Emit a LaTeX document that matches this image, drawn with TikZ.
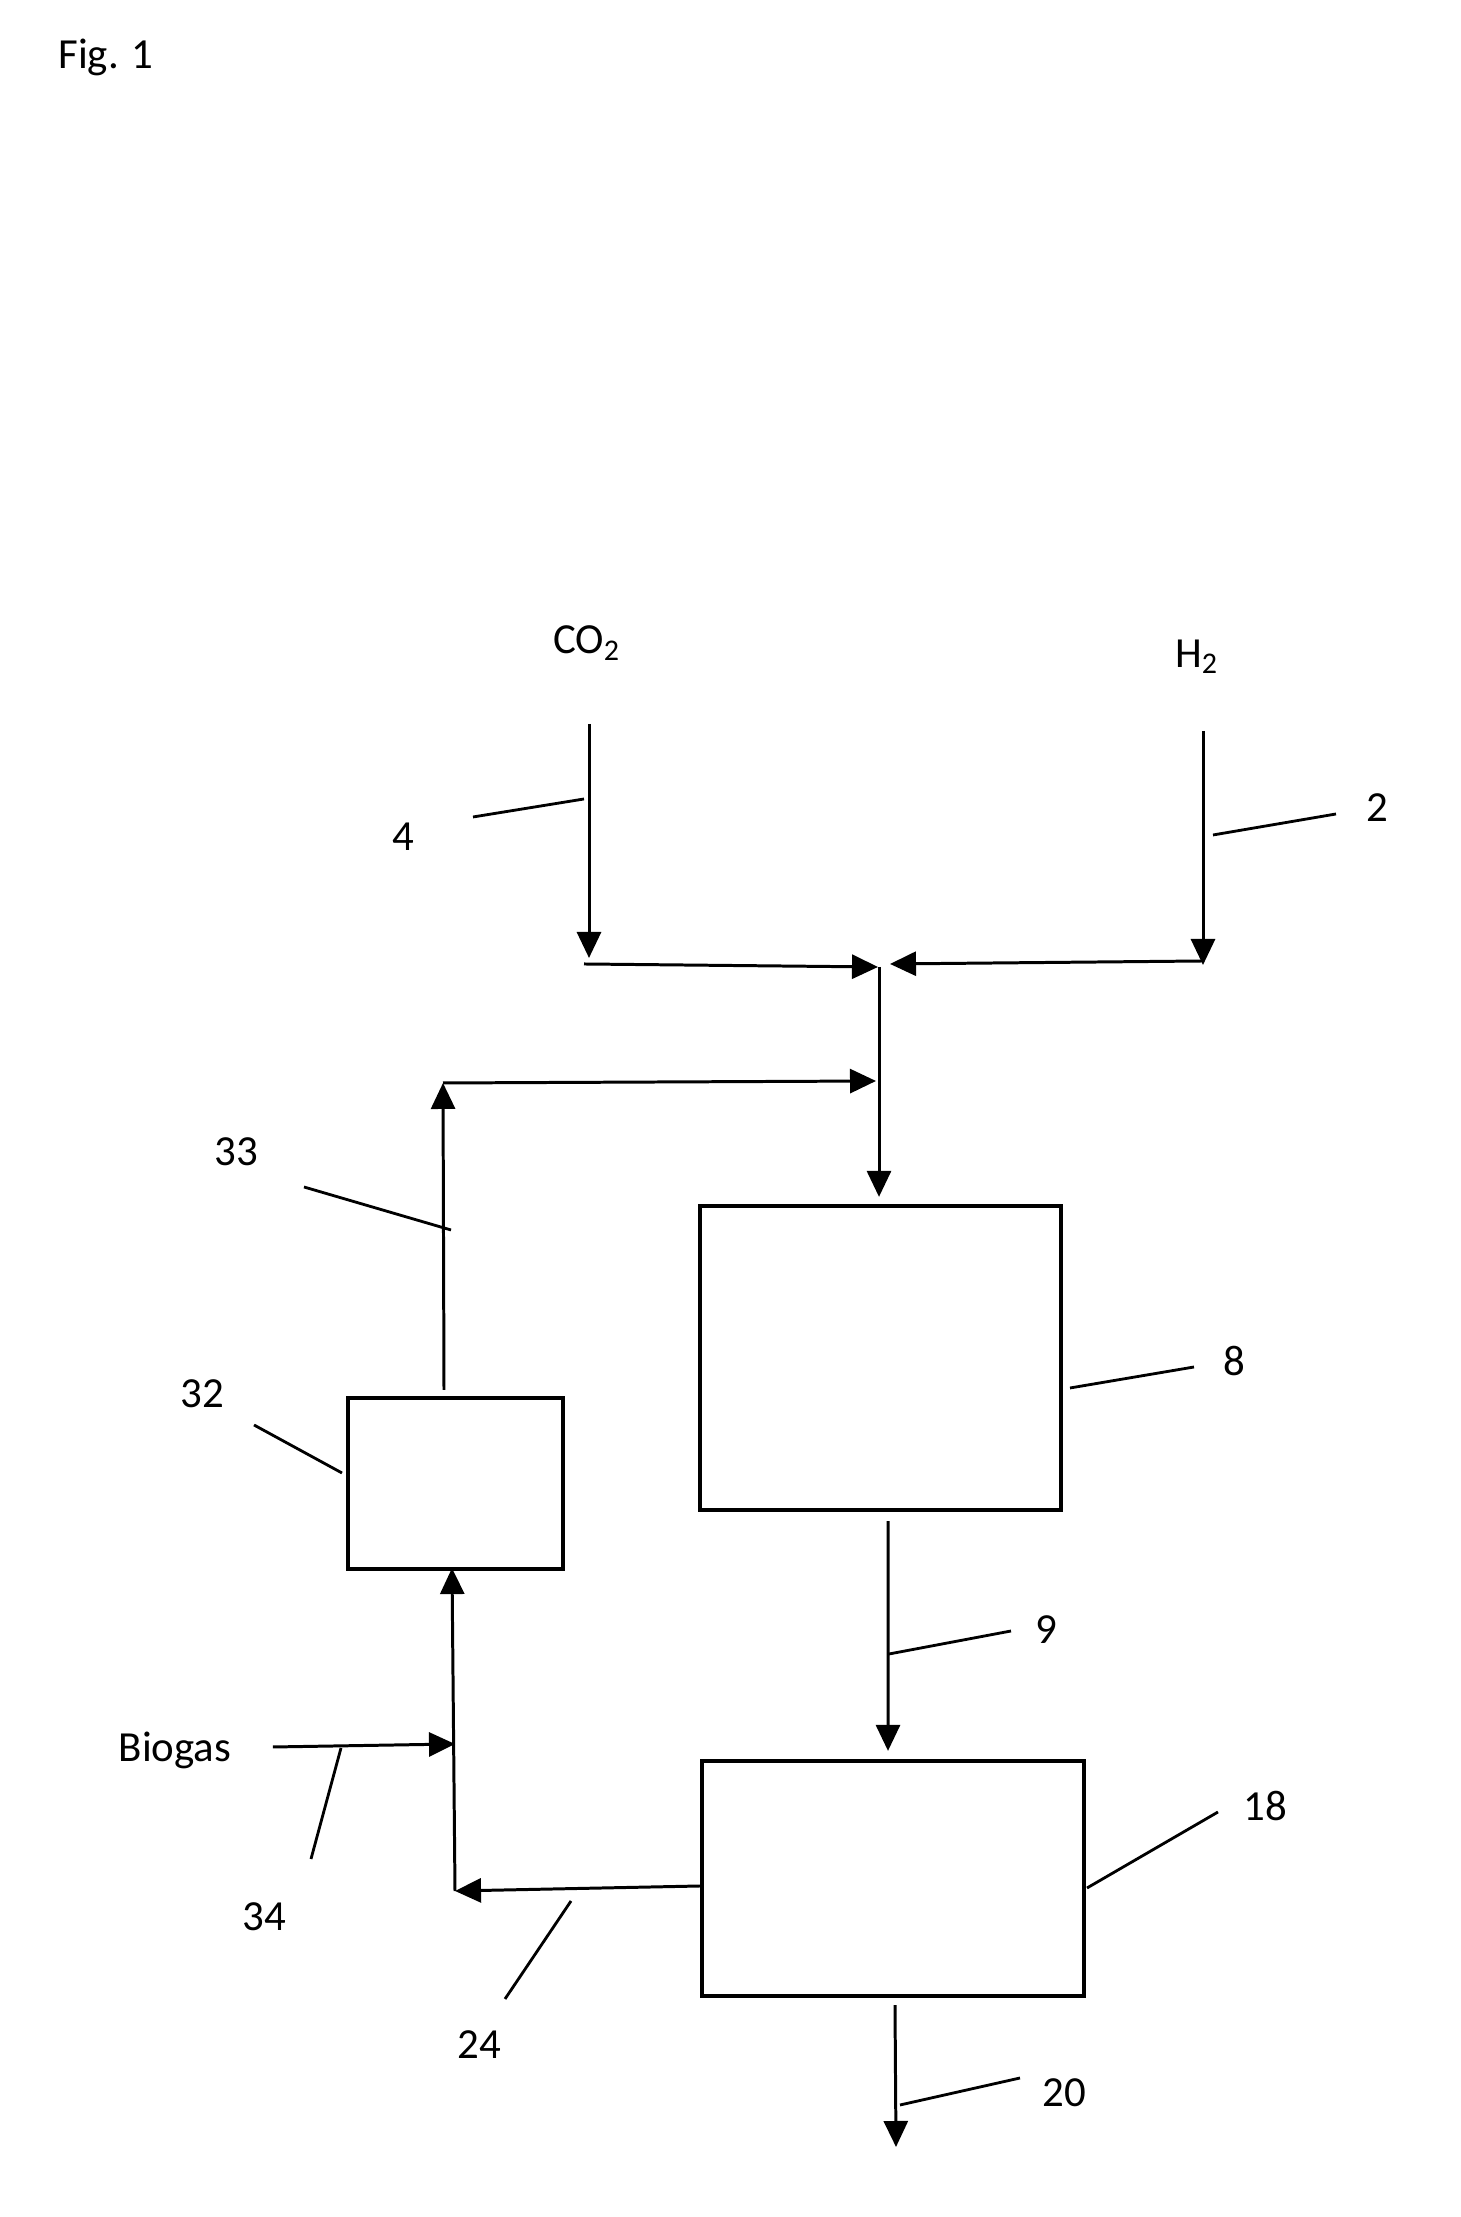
\documentclass[tikz,border=0pt]{standalone}
\usepackage{fontspec}
\setmainfont{Carlito}
\usetikzlibrary{arrows.meta}

\tikzset{
  >={Triangle[length=2.6mm, width=2.4mm]},
  flow/.style={->, line width=0.85pt},
  unit/.style={draw, line width=1.2pt, inner sep=0pt},
  leader/.style={line width=0.8pt},
  tag/.style={inner sep=0pt, font=\fontsize{12.2}{14.6}\selectfont},
}

\begin{document}
\begin{tikzpicture}
  \useasboundingbox (0,0) rectangle (14.6,22.17);
  \node[tag] (fig) at (1.06,21.60) {Fig. 1};
  %% units
  \node[unit, minimum width=3.61cm, minimum height=3.04cm] (reactor) at (8.805,8.59) {};
  \node[unit, minimum width=2.15cm, minimum height=1.71cm] (upgrade) at (4.555,7.335) {};
  \node[unit, minimum width=3.82cm, minimum height=2.35cm] (separator) at (8.93,3.385) {};
  %% feeds
  \node[tag] (co2) at (5.87,15.74) {CO\textsubscript{2}};
  \node[tag] (h2) at (11.97,15.60) {H\textsubscript{2}};
  \node[tag] (biogas) at (1.75,4.67) {Biogas};
  \coordinate (co2in) at (5.89,14.93);
  \coordinate (co2out) at (5.89,12.59);
  \coordinate (h2in) at (12.03,14.86);
  \coordinate (h2out) at (12.03,12.52);
  \coordinate (mixco2) at (8.78,12.50);
  \coordinate (mixh2) at (8.90,12.53);
  \coordinate (mixtop) at (8.79,12.50);
  \coordinate (recturn) at (4.43,11.34);
  \coordinate (recin) at (8.76,11.36);
  \coordinate (bottom) at (4.55,3.26);
  \coordinate (biojoin) at (4.55,4.73);
  \coordinate (product) at (8.96,0.70);
  %% streams
  \draw[flow] (co2in) -- (co2out);
  \draw[flow] (h2in) -- (h2out);
  \draw[flow] (5.84,12.53) -- (mixco2);
  \draw[flow] (h2out |- 0,12.56) -- (mixh2);
  \draw[flow] (mixtop) -- ([xshift=-0.15mm, yshift=0.7mm]reactor.north);
  \draw[flow] ([xshift=-1.15mm, yshift=0.6mm]upgrade.north) -- (recturn);
  \draw[flow] (recturn) -- (recin);
  \draw[flow] ([xshift=0.75mm, yshift=-0.9mm]reactor.south) -- ([xshift=-0.5mm, yshift=0.8mm]separator.north);
  \draw[flow] ([yshift=-0.75mm]separator.west) -- (bottom);
  \draw[flow] (bottom) -- ([xshift=-0.35mm, yshift=0.3mm]upgrade.south);
  \draw[flow] ([xshift=4.1mm, yshift=0.3mm]biogas.east) -- (biojoin);
  \draw[flow] ([xshift=0.2mm, yshift=-0.7mm]separator.south) -- (product);
  %% reference numerals and leaders
  \node[tag] (n4) at (4.03,13.80) {4};
  \draw[leader] (4.73,14.00) -- (5.84,14.18);
  \node[tag] (n2) at (13.77,14.09) {2};
  \draw[leader] (12.13,13.82) -- (13.36,14.03);
  \node[tag] (n33) at (2.36,10.65) {33};
  \draw[leader] (3.04,10.30) -- (4.51,9.87);
  \node[tag] (n8) at (12.34,8.56) {8};
  \draw[leader] (10.70,8.29) -- (11.94,8.50);
  \node[tag] (n32) at (2.02,8.23) {32};
  \draw[leader] (2.54,7.92) -- (3.42,7.44);
  \node[tag] (n9) at (10.46,5.87) {9};
  \draw[leader] (8.89,5.63) -- (10.11,5.86);
  \node[tag] (n34) at (2.64,3.00) {34};
  \draw[leader] (3.11,3.58) -- (3.41,4.69);
  \node[tag] (n18) at (12.65,4.11) {18};
  \draw[leader] (10.87,3.29) -- (12.18,4.05);
  \node[tag] (n24) at (4.79,1.72) {24};
  \draw[leader] (5.05,2.18) -- (5.71,3.16);
  \node[tag] (n20) at (10.64,1.24) {20};
  \draw[leader] (9.00,1.12) -- (10.20,1.39);
\end{tikzpicture}
\end{document}
